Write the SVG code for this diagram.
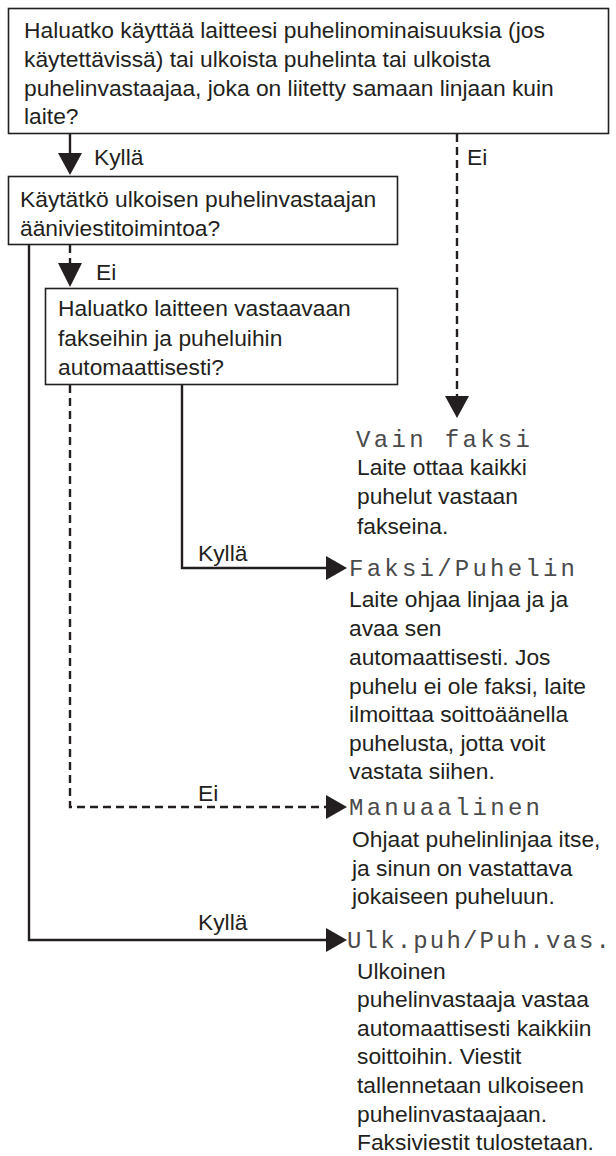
<svg xmlns="http://www.w3.org/2000/svg" width="616" height="1156" viewBox="0 0 616 1156">
<style>
.box{fill:#fff;stroke:#231f20;stroke-width:1.6}
.t{font-family:"Liberation Sans",Arial,sans-serif;font-size:22.8px;fill:#231f20}
.m{font-family:"Liberation Mono","DejaVu Sans Mono",monospace;font-size:24px;fill:#4a4a4a}
.s{fill:none;stroke:#231f20;stroke-width:2.4}
.d{fill:none;stroke:#231f20;stroke-width:2.4;stroke-dasharray:8 5}
.h{fill:#231f20}
</style>
<rect width="616" height="1156" fill="#fff"/>
<g id="connectors">
<path class="s" d="M70 134V154"/>
<polygon class="h" points="58,153 82,153 70,175"/>
<path class="d" d="M457 134V397"/>
<polygon class="h" points="445,396 469,396 457,418"/>
<path class="s" d="M29 245V940H328"/>
<polygon class="h" points="326,928 326,952 347,940"/>
<path class="d" d="M70 245V264"/>
<polygon class="h" points="58,263 82,263 70,287"/>
<path class="d" d="M70 385V807H328"/>
<polygon class="h" points="326,795 326,819 347,807"/>
<path class="s" d="M182 385V568H328"/>
<polygon class="h" points="326,556 326,580 347,568"/>
<text class="t" x="94" y="165">Kyllä</text>
<text class="t" x="467" y="165">Ei</text>
<text class="t" x="96" y="280">Ei</text>
<text class="t" x="198" y="561">Kyllä</text>
<text class="t" x="198" y="801">Ei</text>
<text class="t" x="198" y="930">Kyllä</text>
</g>
<g id="q1">
<rect class="box" x="8.5" y="8.5" width="600" height="125"/>
<text class="t" x="24" y="38">Haluatko käyttää laitteesi puhelinominaisuuksia (jos</text>
<text class="t" x="24" y="67">käytettävissä) tai ulkoista puhelinta tai ulkoista</text>
<text class="t" x="24" y="96">puhelinvastaajaa, joka on liitetty samaan linjaan kuin</text>
<text class="t" x="24" y="124">laite?</text>
</g>
<g id="q2">
<rect class="box" x="8.5" y="176.5" width="389" height="68"/>
<text class="t" x="20" y="207">Käytätkö ulkoisen puhelinvastaajan</text>
<text class="t" x="20" y="236">ääniviestitoimintoa?</text>
</g>
<g id="q3">
<rect class="box" x="45.5" y="288.5" width="352" height="96"/>
<text class="t" x="58" y="316">Haluatko laitteen vastaavaan</text>
<text class="t" x="58" y="346">fakseihin ja puheluihin</text>
<text class="t" x="58" y="375">automaattisesti?</text>
</g>
<g id="vain-faksi">
<text class="m" x="356" y="447" textLength="174" lengthAdjust="spacing">Vain faksi</text>
<text class="t" x="357" y="475">Laite ottaa kaikki</text>
<text class="t" x="357" y="504">puhelut vastaan</text>
<text class="t" x="357" y="534">fakseina.</text>
</g>
<g id="faksi-puhelin">
<text class="m" x="349" y="576" textLength="226" lengthAdjust="spacing">Faksi/Puhelin</text>
<text class="t" x="349" y="607">Laite ohjaa linjaa ja ja</text>
<text class="t" x="349" y="636">avaa sen</text>
<text class="t" x="349" y="665">automaattisesti. Jos</text>
<text class="t" x="349" y="694">puhelu ei ole faksi, laite</text>
<text class="t" x="349" y="722">ilmoittaa soittoäänella</text>
<text class="t" x="349" y="751">puhelusta, jotta voit</text>
<text class="t" x="349" y="779">vastata siihen.</text>
</g>
<g id="manuaalinen">
<text class="m" x="349" y="815" textLength="191" lengthAdjust="spacing">Manuaalinen</text>
<text class="t" x="352" y="847">Ohjaat puhelinlinjaa itse,</text>
<text class="t" x="352" y="876">ja sinun on vastattava</text>
<text class="t" x="352" y="904">jokaiseen puheluun.</text>
</g>
<g id="ulk">
<text class="m" x="347" y="948" textLength="263" lengthAdjust="spacing">Ulk.puh/Puh.vas.</text>
<text class="t" x="357" y="979">Ulkoinen</text>
<text class="t" x="357" y="1007">puhelinvastaaja vastaa</text>
<text class="t" x="357" y="1036">automaattisesti kaikkiin</text>
<text class="t" x="357" y="1064">soittoihin. Viestit</text>
<text class="t" x="357" y="1093">tallennetaan ulkoiseen</text>
<text class="t" x="357" y="1122">puhelinvastaajaan.</text>
<text class="t" x="357" y="1150">Faksiviestit tulostetaan.</text>
</g>
</svg>
